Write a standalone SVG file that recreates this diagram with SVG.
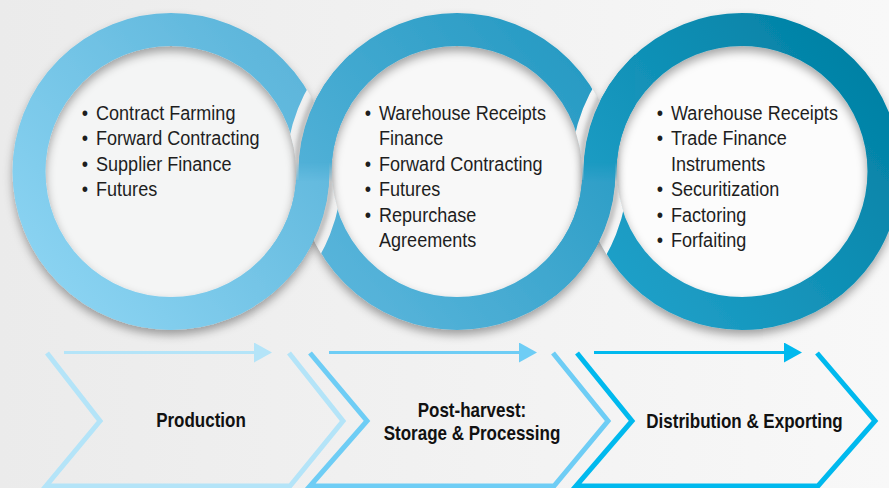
<svg xmlns="http://www.w3.org/2000/svg" width="889" height="488" viewBox="0 0 889 488">
<defs>
<linearGradient id="bg" gradientUnits="userSpaceOnUse" x1="0" y1="0" x2="889" y2="0"><stop offset="0" stop-color="#ebebeb"/><stop offset="1" stop-color="#f8f8f8"/></linearGradient>
<linearGradient id="g1" gradientUnits="userSpaceOnUse" x1="20" y1="300" x2="320" y2="40"><stop offset="0" stop-color="#8fd6f4"/><stop offset="1" stop-color="#57b2d8"/></linearGradient>
<linearGradient id="g2" gradientUnits="userSpaceOnUse" x1="305" y1="300" x2="605" y2="40"><stop offset="0" stop-color="#5db7dd"/><stop offset="1" stop-color="#2298c1"/></linearGradient>
<linearGradient id="g3" gradientUnits="userSpaceOnUse" x1="590" y1="300" x2="889" y2="60"><stop offset="0" stop-color="#22a3cc"/><stop offset="1" stop-color="#007fa2"/></linearGradient>
<linearGradient id="fade" gradientUnits="userSpaceOnUse" x1="0" y1="162" x2="0" y2="182"><stop offset="0" stop-color="#000"/><stop offset="1" stop-color="#fff"/></linearGradient>
<filter id="ds" x="-15%" y="-15%" width="130%" height="135%"><feDropShadow dx="0" dy="5" stdDeviation="5" flood-color="#000" flood-opacity="0.35"/></filter>
<filter id="blur" x="-20%" y="-20%" width="140%" height="140%"><feGaussianBlur stdDeviation="2.5"/></filter>
<clipPath id="band1"><path clip-rule="evenodd" d="M12,171.5 a159,159 0 1,0 318,0 a159,159 0 1,0 -318,0 Z M46,171.5 a125,125 0 1,0 250,0 a125,125 0 1,0 -250,0 Z"/></clipPath>
<clipPath id="band2"><path clip-rule="evenodd" d="M298,171.5 a159,159 0 1,0 318,0 a159,159 0 1,0 -318,0 Z M332,171.5 a125,125 0 1,0 250,0 a125,125 0 1,0 -250,0 Z"/></clipPath>
<clipPath id="band3"><path clip-rule="evenodd" d="M583,171.5 a159,159 0 1,0 318,0 a159,159 0 1,0 -318,0 Z M617,171.5 a125,125 0 1,0 250,0 a125,125 0 1,0 -250,0 Z"/></clipPath>
<clipPath id="cAt"><rect x="265" y="0" width="85" height="180"/></clipPath>
<clipPath id="cBt"><rect x="550" y="0" width="85" height="180"/></clipPath>
<mask id="mA" maskUnits="userSpaceOnUse" x="265" y="0" width="85" height="345"><rect x="265" y="0" width="85" height="345" fill="url(#fade)"/></mask>
<mask id="mB" maskUnits="userSpaceOnUse" x="550" y="0" width="85" height="345"><rect x="550" y="0" width="85" height="345" fill="url(#fade)"/></mask>
<marker id="m1" viewBox="0 0 18 20" refX="2" refY="10" markerWidth="18" markerHeight="20" markerUnits="userSpaceOnUse" orient="auto"><path d="M0,0 L18,10 L0,20 Z" fill="#b4e4f8"/></marker>
<marker id="m2" viewBox="0 0 18 20" refX="2" refY="10" markerWidth="18" markerHeight="20" markerUnits="userSpaceOnUse" orient="auto"><path d="M0,0 L18,10 L0,20 Z" fill="#6ecdf5"/></marker>
<marker id="m3" viewBox="0 0 18 20" refX="2" refY="10" markerWidth="18" markerHeight="20" markerUnits="userSpaceOnUse" orient="auto"><path d="M0,0 L18,10 L0,20 Z" fill="#00b9ee"/></marker>
</defs>
<style>
.ring{fill:none;stroke-width:33}
.disk{stroke:none}
.halo{fill:none;stroke:url(#bg);stroke-width:13}
.gsh{fill:none;stroke:#000;stroke-opacity:.28;stroke-width:5}
.body{font-family:"Liberation Sans",Arial,sans-serif;font-size:21px;fill:#1e1e1e}
.lbl{font-family:"Liberation Sans",Arial,sans-serif;font-size:20px;font-weight:bold;fill:#111;text-anchor:middle}
.chev{fill:none;stroke-width:5;stroke-linejoin:miter}
.arr{stroke-width:3;fill:none}
</style>
<rect x="0" y="0" width="889" height="488" fill="url(#bg)"/>

<g id="rings">
<circle class="disk" cx="171" cy="171.5" r="127" fill="#f4f5f5"/>
<circle class="disk" cx="457" cy="171.5" r="127" fill="#f8f8f8"/>
<circle class="disk" cx="742" cy="171.5" r="127" fill="#fcfcfc"/>
<circle id="ring1" class="ring" cx="171" cy="171.5" r="142" stroke="url(#g1)" filter="url(#ds)"/>
<circle id="ring2" class="ring" cx="457" cy="171.5" r="142" stroke="url(#g2)" filter="url(#ds)"/>
<circle id="ring3" class="ring" cx="742" cy="171.5" r="142" stroke="url(#g3)" filter="url(#ds)"/>
<g clip-path="url(#cAt)">
<g clip-path="url(#band1)"><circle class="halo" cx="457" cy="171.5" r="164.5"/><circle class="gsh" cx="457" cy="171.5" r="160" filter="url(#blur)"/></g>
<circle class="ring" cx="457" cy="171.5" r="142" stroke="url(#g2)"/>
</g>
<g mask="url(#mA)">
<g clip-path="url(#band2)"><circle class="halo" cx="171" cy="171.5" r="164.5"/><circle class="gsh" cx="171" cy="171.5" r="160" filter="url(#blur)"/></g>
<circle class="ring" cx="171" cy="171.5" r="142" stroke="url(#g1)"/>
</g>
<g clip-path="url(#cBt)">
<g clip-path="url(#band2)"><circle class="halo" cx="742" cy="171.5" r="164.5"/><circle class="gsh" cx="742" cy="171.5" r="160" filter="url(#blur)"/></g>
<circle class="ring" cx="742" cy="171.5" r="142" stroke="url(#g3)"/>
</g>
<g mask="url(#mB)">
<g clip-path="url(#band3)"><circle class="halo" cx="457" cy="171.5" r="164.5"/><circle class="gsh" cx="457" cy="171.5" r="160" filter="url(#blur)"/></g>
<circle class="ring" cx="457" cy="171.5" r="142" stroke="url(#g2)"/>
</g>
</g>

<g id="list1" class="body" transform="translate(96 0) scale(0.86 1)">
<text x="-16.5" y="120">•</text><text x="0" y="120">Contract Farming</text>
<text x="-16.5" y="145.5">•</text><text x="0" y="145.5">Forward Contracting</text>
<text x="-16.5" y="171">•</text><text x="0" y="171">Supplier Finance</text>
<text x="-16.5" y="196.5">•</text><text x="0" y="196.5">Futures</text>
</g>
<g id="list2" class="body" transform="translate(379 0) scale(0.86 1)">
<text x="-16.5" y="120">•</text><text x="0" y="120">Warehouse Receipts</text>
<text x="0" y="145.5">Finance</text>
<text x="-16.5" y="171">•</text><text x="0" y="171">Forward Contracting</text>
<text x="-16.5" y="196.5">•</text><text x="0" y="196.5">Futures</text>
<text x="-16.5" y="222">•</text><text x="0" y="222">Repurchase</text>
<text x="0" y="247.5">Agreements</text>
</g>
<g id="list3" class="body" transform="translate(671 0) scale(0.86 1)">
<text x="-16.5" y="120">•</text><text x="0" y="120">Warehouse Receipts</text>
<text x="-16.5" y="145.5">•</text><text x="0" y="145.5">Trade Finance</text>
<text x="0" y="171">Instruments</text>
<text x="-16.5" y="196.5">•</text><text x="0" y="196.5">Securitization</text>
<text x="-16.5" y="222">•</text><text x="0" y="222">Factoring</text>
<text x="-16.5" y="247.5">•</text><text x="0" y="247.5">Forfaiting</text>
</g>

<g id="production">
<path class="chev" stroke="#b4e4f8" d="M47,353 L100,421 L46,486 L290,486 L343,421 L289,353"/>
<g transform="translate(201 0) scale(0.85 1)"><text class="lbl" x="0" y="427">Production</text></g>
</g>
<g id="post-harvest">
<path class="chev" stroke="#6ecdf5" d="M310,353 L367,421 L310,486 L554,486 L608,421 L553,353"/>
<g transform="translate(472 0) scale(0.85 1)"><text class="lbl" x="0" y="417">Post-harvest:</text><text class="lbl" x="0" y="440">Storage &amp; Processing</text></g>
</g>
<g id="distribution">
<path class="chev" stroke="#00b9ee" d="M577,353 L632,421 L576,486 L818,486 L875,421 L817,353"/>
<g transform="translate(744.5 0) scale(0.85 1)"><text class="lbl" x="0" y="428">Distribution &amp; Exporting</text></g>
</g>

<g id="connectors">
<line class="arr" x1="64" y1="352.5" x2="256" y2="352.5" stroke="#b4e4f8" marker-end="url(#m1)"/>
<line class="arr" x1="329" y1="352.5" x2="521" y2="352.5" stroke="#6ecdf5" marker-end="url(#m2)"/>
<line class="arr" x1="594" y1="352.5" x2="786" y2="352.5" stroke="#00b9ee" marker-end="url(#m3)"/>
</g>
</svg>
